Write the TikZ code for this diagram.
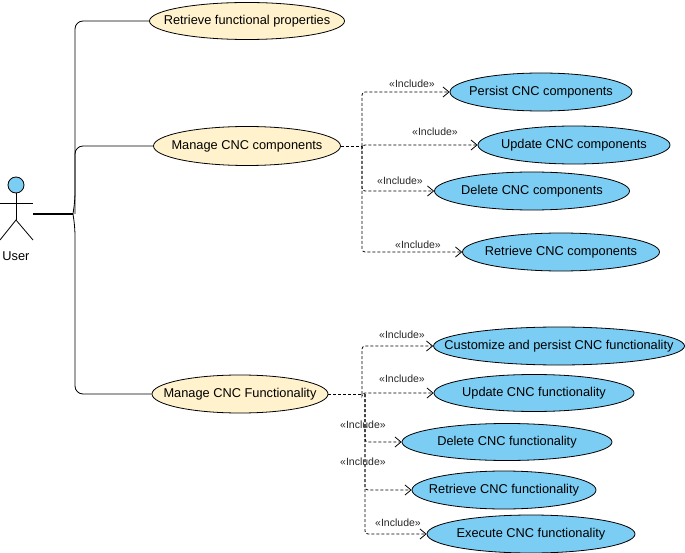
\documentclass[tikz,border=0pt]{standalone}
\usepackage{fontspec}
\setmainfont{Liberation Sans}
\usetikzlibrary{arrows.meta,shapes.geometric}
\definecolor{ucyellow}{HTML}{FFF2CC}
\definecolor{ucblue}{HTML}{7CCDF4}
\begin{document}
\begin{tikzpicture}[x=1pt,y=-1pt,line width=0.8pt,
  uc/.style={ellipse,draw=black,fill=ucyellow,inner sep=0pt,label={[font=\fontsize{12.8}{14}\selectfont]center:#1}},
  sub/.style={ellipse,draw=black,fill=ucblue,inner sep=0pt,label={[font=\fontsize{12.8}{14}\selectfont]center:#1}},
  inc/.style={densely dashed,-{Straight Barb[length=6pt,width=10pt]},rounded corners=3pt},
  lbl/.style={font=\fontsize{10.5}{12}\selectfont,text=black!85}]
\useasboundingbox (0,0) rectangle (685,553);
% actor
\node[circle,draw,fill=ucblue,minimum size=16pt,inner sep=0pt] (head) at (16,185) {};
\draw (head.south) -- (16,220) coordinate (hip);
\draw (0,203) -- (33,203);
\draw (0,240) -- (hip) -- (33,240);
\node[font=\fontsize{12.8}{14}\selectfont] (user) at (16,256) {User};
\coordinate (hand) at (33,214);
% main use cases
\node[uc={Retrieve functional properties},minimum width=195pt,minimum height=37pt] (rfp) at (247,21) {};
\node[uc={Manage CNC components},minimum width=187pt,minimum height=39pt] (mcc) at (247,146) {};
\node[uc={Manage CNC Functionality},minimum width=176pt,minimum height=38pt] (mcf) at (240,394) {};
% included use cases
\node[sub={Persist CNC components},minimum width=182pt,minimum height=38pt] (pcc) at (541,92) {};
\node[sub={Update CNC components},minimum width=192pt,minimum height=38pt] (ucc) at (574,145) {};
\node[sub={Delete CNC components},minimum width=195pt,minimum height=38pt] (dcc) at (532,191) {};
\node[sub={Retrieve CNC components},minimum width=197pt,minimum height=38pt] (rcc) at (561,252) {};
\node[sub={Customize and persist CNC functionality},minimum width=251pt,minimum height=38pt] (cpf) at (559,346) {};
\node[sub={Update CNC functionality},minimum width=200pt,minimum height=37pt] (ucf) at (534,393) {};
\node[sub={Delete CNC functionality},minimum width=210pt,minimum height=37pt] (dcf) at (507,442) {};
\node[sub={Retrieve CNC functionality},minimum width=184pt,minimum height=38pt] (rcf) at (504,490) {};
\node[sub={Execute CNC functionality},minimum width=208pt,minimum height=38pt] (ecf) at (531,534) {};
% associations
\draw[line width=2.2pt] (hand) -- (73,214);
\draw[rounded corners=8pt] (73,214) -- (75,200) |- (rfp.west);
\draw[rounded corners=8pt] (75,214) |- (mcc.west);
\draw[rounded corners=8pt] (73,214) -- (75,228) |- (mcf.west);
% includes
\coordinate (jc) at (362,146);
\draw[densely dashed] (mcc.east) -- (jc);
\foreach \t in {pcc,ucc,dcc,rcc} \draw[inc] (jc) |- (\t.west);
\coordinate (jf) at (362,394);
\draw[densely dashed] (mcf.east) -- (jf);
\foreach \t in {cpf,ucf} \draw[inc] (jf) |- (\t.west);
\foreach \t in {dcf,rcf,ecf} \draw[inc] (365,394) |- (\t.west);
% labels
\node[lbl] at (412,84) {\textless\textless Include\textgreater\textgreater};
\node[lbl] at (435,132) {\textless\textless Include\textgreater\textgreater};
\node[lbl] at (400,181) {\textless\textless Include\textgreater\textgreater};
\node[lbl] at (418,245) {\textless\textless Include\textgreater\textgreater};
\node[lbl] at (402,335) {\textless\textless Include\textgreater\textgreater};
\node[lbl] at (402,379) {\textless\textless Include\textgreater\textgreater};
\node[lbl] at (363,425) {\textless\textless Include\textgreater\textgreater};
\node[lbl] at (363,462) {\textless\textless Include\textgreater\textgreater};
\node[lbl] at (398,523) {\textless\textless Include\textgreater\textgreater};
\end{tikzpicture}
\end{document}
